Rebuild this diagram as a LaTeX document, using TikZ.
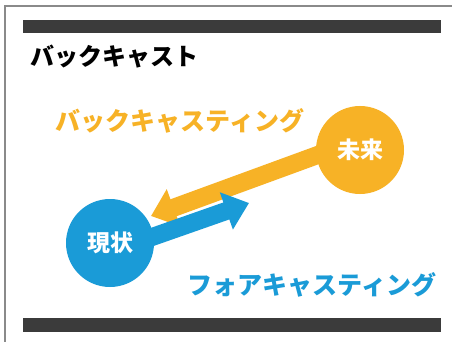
\documentclass[tikz,border=0pt]{standalone}
\usepackage{fontspec}
\newfontfamily\jp{Noto Sans CJK JP}
\usetikzlibrary{arrows.meta}
\definecolor{orng}{HTML}{F7B226}
\definecolor{blu}{HTML}{1A9BD7}
\definecolor{barc}{HTML}{3B3B3B}
\definecolor{framec}{HTML}{8A8A8A}
\begin{document}
\begin{tikzpicture}[x=1pt,y=-1pt,
  bar/.style={fill=barc,draw=none},
  bigcircle/.style={circle,draw=none,minimum size=88pt,inner sep=0pt,text=white,font=\jp\bfseries\fontsize{23}{23}\selectfont},
  label/.style={inner sep=0pt,font=\jp\bfseries\fontsize{25}{25}\selectfont},
  fatarrow/.style={line width=18pt,-{Triangle[length=24pt,width=38pt]}}]
\useasboundingbox (0,0) rectangle (452,342);
\fill[white] (0,0) rectangle (452,342);
% frame
\draw[framec,line width=2pt] (5,350) -- (5,6) -- (460,6);
% bars
\fill[bar] (23,20) rectangle (441,33);
\fill[bar] (23,318) rectangle (441,332);
% title
\node[label,anchor=west,text=black,font=\jp\bfseries\fontsize{24}{24}\selectfont] (title) at (30,57) {バックキャスト};
% labels
\node[label,text=orng] (bclab) at (180,121) {バックキャスティング};
\node[label,text=blu] (fclab) at (312,285) {フォアキャスティング};
% coordinates
\coordinate (oStart) at (345,145);
\coordinate (oTip) at (151,216);
\coordinate (bStart) at (115,250);
\coordinate (bTip) at (249,203);
% orange arrow and circle
\draw[fatarrow,orng] (oStart) -- (oTip);
\node[bigcircle,fill=orng] (future) at (360,150) {未来};
% blue arrow and circle
\draw[fatarrow,blu] (bStart) -- (bTip);
\node[bigcircle,fill=blu] (now) at (110,243) {現状};
\end{tikzpicture}
\end{document}
